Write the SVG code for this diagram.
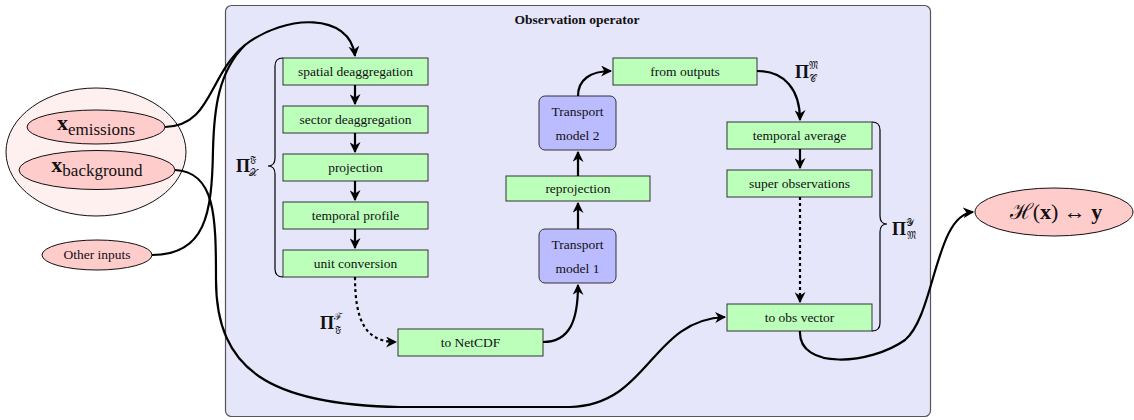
<svg xmlns="http://www.w3.org/2000/svg" width="1134" height="420" viewBox="0 0 1134 420">
<style>
.t{font-family:"Liberation Serif","DejaVu Serif",serif;font-size:13.5px;fill:#111;text-anchor:middle}
.box{fill:#bbffbb;stroke:#333;stroke-width:1}
.tm{fill:#bbbbff;stroke:#333;stroke-width:1}
.ell{fill:#ffcccc;stroke:#111;stroke-width:1}
.c{fill:none;stroke:#000;stroke-width:2.2}
.d{fill:none;stroke:#000;stroke-width:2.2;stroke-dasharray:3,3}
.br{fill:none;stroke:#000;stroke-width:1.2}
.m{font-family:"Liberation Serif","DejaVu Serif",serif;fill:#111}
</style>
<defs>
<marker id="ah" viewBox="0 0 10 10" refX="9" refY="5" markerWidth="5" markerHeight="5" orient="auto" markerUnits="strokeWidth">
<path d="M0,0 L10,5 L0,10 L3,5 Z" fill="#000"/>
</marker>
</defs>
<g id="container">
<rect x="225.5" y="5.5" width="705" height="411" rx="6" fill="#e6e6fa" stroke="#555" stroke-width="1.2"/>
<text x="577" y="24" class="t" font-weight="bold">Observation operator</text>
</g>
<g id="inputs">
<ellipse cx="96" cy="152" rx="90" ry="64" fill="#fff0f0" stroke="#111" stroke-width="1"/>
</g>
<g id="xemissions">
<ellipse class="ell" cx="96" cy="127" rx="69" ry="17"/>
<text x="96" y="130" class="m" text-anchor="middle"><tspan font-size="22" font-weight="bold">x</tspan><tspan font-size="17" dy="5">emissions</tspan></text>
</g>
<g id="xbackground">
<ellipse class="ell" cx="97" cy="170" rx="78" ry="19.5"/>
<text x="97" y="172" class="m" text-anchor="middle"><tspan font-size="22" font-weight="bold">x</tspan><tspan font-size="17" dy="4">background</tspan></text>
</g>
<g id="otherinputs">
<ellipse class="ell" cx="97" cy="255" rx="55" ry="15"/>
<text x="97" y="259" class="t" font-size="11.5">Other inputs</text>
</g>
<g id="spatial"><rect class="box" x="283" y="58" width="145" height="27"/><text class="t" x="355.5" y="76">spatial deaggregation</text></g>
<g id="sector"><rect class="box" x="283" y="106" width="145" height="27"/><text class="t" x="355.5" y="124">sector deaggregation</text></g>
<g id="projection"><rect class="box" x="283" y="154" width="145" height="27"/><text class="t" x="355.5" y="172">projection</text></g>
<g id="temporalprofile"><rect class="box" x="283" y="202" width="145" height="27"/><text class="t" x="355.5" y="220">temporal profile</text></g>
<g id="unitconversion"><rect class="box" x="283" y="250" width="145" height="27"/><text class="t" x="355.5" y="268">unit conversion</text></g>
<g id="tonetcdf"><rect class="box" x="398" y="329" width="145" height="27"/><text class="t" x="470.5" y="347">to NetCDF</text></g>
<g id="tm1"><rect class="tm" x="539" y="229" width="77" height="54" rx="6"/><text class="t" x="577.5" y="249">Transport</text><text class="t" x="577.5" y="273">model 1</text></g>
<g id="reprojection"><rect class="box" x="506" y="176" width="144" height="25"/><text class="t" x="578" y="193">reprojection</text></g>
<g id="tm2"><rect class="tm" x="539" y="96" width="77" height="54" rx="6"/><text class="t" x="577.5" y="116">Transport</text><text class="t" x="577.5" y="140">model 2</text></g>
<g id="fromoutputs"><rect class="box" x="613" y="58" width="144" height="27"/><text class="t" x="685" y="76">from outputs</text></g>
<g id="temporalaverage"><rect class="box" x="727" y="122" width="145" height="27"/><text class="t" x="799.5" y="140">temporal average</text></g>
<g id="superobs"><rect class="box" x="727" y="170" width="145" height="27"/><text class="t" x="799.5" y="188">super observations</text></g>
<g id="toobsvector"><rect class="box" x="727" y="304" width="145" height="27"/><text class="t" x="799.5" y="322">to obs vector</text></g>
<g id="hx">
<ellipse class="ell" cx="1054" cy="212" rx="79" ry="24"/>
<text x="1056" y="219" class="m" font-size="22" text-anchor="middle">ℋ(<tspan font-weight="bold">x</tspan>) ↔ <tspan font-weight="bold">y</tspan></text>
</g>
<g id="braces">
<path class="br" d="M283,58 Q275,58 275,66 L275,158 Q275,166 268,166 Q275,166 275,174 L275,269 Q275,277 283,277"/>
<path class="br" d="M872,122 Q880,122 880,130 L880,216 Q880,224 887,224 Q880,224 880,232 L880,323 Q880,331 872,331"/>
</g>
<g id="labels">
<text class="m" x="236" y="172" font-size="18" font-weight="bold">Π<tspan font-size="10" font-weight="normal" dy="-9">𝔉</tspan><tspan font-size="10" font-weight="normal" dx="-7" dy="13">𝒳</tspan></text>
<text class="m" x="320" y="329" font-size="18" font-weight="bold">Π<tspan font-size="10" font-weight="normal" dy="-9">ℱ</tspan><tspan font-size="10" font-weight="normal" dx="-7" dy="13">𝔉</tspan></text>
<text class="m" x="795" y="78" font-size="18" font-weight="bold">Π<tspan font-size="10" font-weight="normal" dy="-9">𝔐</tspan><tspan font-size="10" font-weight="normal" dx="-9" dy="13">𝒞</tspan></text>
<text class="m" x="892" y="235" font-size="18" font-weight="bold">Π<tspan font-size="10" font-weight="normal" dy="-9">𝒴</tspan><tspan font-size="10" font-weight="normal" dx="-7" dy="13">𝔐</tspan></text>
</g>
<g id="connectors">
<path class="c" d="M165,127 C212,126 208,75 245,45 C285,14 350,12 355,56" marker-end="url(#ah)"/>
<path class="c" d="M152,255 C205,255 212,215 213,150 C214,110 218,72 245,45"/>
<path class="c" d="M175,170 C215,172 216,215 216,280 C216,370 270,405 400,407 L570,407 C650,405 650,320 725,317" marker-end="url(#ah)"/>
<path class="c" d="M355,85 L355,104" marker-end="url(#ah)"/>
<path class="c" d="M355,133 L355,152" marker-end="url(#ah)"/>
<path class="c" d="M355,181 L355,200" marker-end="url(#ah)"/>
<path class="c" d="M355,229 L355,248" marker-end="url(#ah)"/>
<path class="d" d="M355,277 C355,320 365,342 396,342" marker-end="url(#ah)"/>
<path class="c" d="M543,342 C570,342 578,320 578,285" marker-end="url(#ah)"/>
<path class="c" d="M578,229 L578,203" marker-end="url(#ah)"/>
<path class="c" d="M578,176 L578,152" marker-end="url(#ah)"/>
<path class="c" d="M578,96 C578,80 590,71 611,71" marker-end="url(#ah)"/>
<path class="c" d="M757,71 C785,71 800,90 800,120" marker-end="url(#ah)"/>
<path class="c" d="M800,149 L800,168" marker-end="url(#ah)"/>
<path class="d" d="M800,197 L800,302" marker-end="url(#ah)"/>
<path class="c" d="M800,331 C798,370 870,365 905,340 C935,315 935,215 973,212" marker-end="url(#ah)"/>
</g>
</svg>
